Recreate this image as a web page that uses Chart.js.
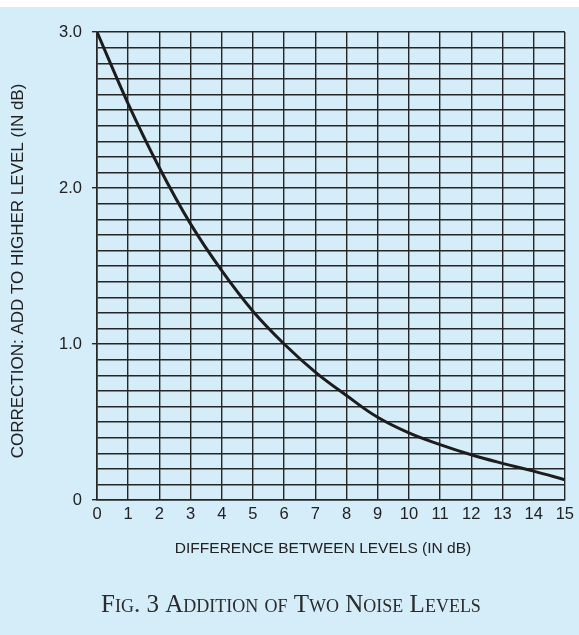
<!DOCTYPE html>
<html>
<head>
<meta charset="utf-8">
<script src="https://cdn.jsdelivr.net/npm/chart.js@4.4.1/dist/chart.umd.min.js"></script>
<style>
  html, body { margin: 0; padding: 0; background: #ffffff; }
  #box { position: relative; width: 579px; height: 635px; }
</style>
</head>
<body>
<div id="box"><canvas id="c" width="579" height="635"></canvas></div>
<script>
// ---- data ----
const differences = [0, 1, 2, 3, 4, 5, 6, 7, 8, 9, 10, 11, 12, 13, 14, 15];
const corrections = [3.0, 2.54, 2.13, 1.77, 1.47, 1.21, 1.0, 0.82, 0.67, 0.53, 0.43, 0.355, 0.29, 0.235, 0.185, 0.13];
const yTickLabels = { 0: '0', 1: '1.0', 2: '2.0', 3: '3.0' };
const xTitle = 'DIFFERENCE BETWEEN LEVELS (IN dB)';
const yTitle = 'CORRECTION: ADD TO HIGHER LEVEL (IN dB)';
const caption = 'Fig. 3 Addition of Two Noise Levels';

const BG = '#d5ecf9';
const INK = '#262626';
const SANS = '"Liberation Sans", Arial, sans-serif';

const bgPlugin = {
  id: 'bg',
  beforeDraw(chart) {
    const ctx = chart.ctx;
    ctx.save();
    ctx.fillStyle = '#ffffff';
    ctx.fillRect(0, 0, chart.width, chart.height);
    ctx.fillStyle = BG;
    ctx.fillRect(0, 7, chart.width, chart.height - 7);
    ctx.restore();
  }
};

const textPlugin = {
  id: 'texts',
  afterDraw(chart) {
    const ctx = chart.ctx;
    ctx.save();
    ctx.fillStyle = '#222';
    ctx.textAlign = 'center';
    ctx.textBaseline = 'middle';
    // x axis title
    ctx.font = '15.5px ' + SANS;
    ctx.fillText(xTitle, 323, 549);
    // y axis title
    ctx.save();
    ctx.translate(18, 271);
    ctx.rotate(-Math.PI / 2);
    ctx.font = '17px ' + SANS;
    ctx.fillText(yTitle, 0, 0);
    ctx.restore();
    // caption
    ctx.font = '25px "Liberation Serif", "DejaVu Serif", serif';
    try { ctx.fontVariantCaps = 'small-caps'; } catch (e) {}
    ctx.fillStyle = '#2b2b2b';
    ctx.textBaseline = 'alphabetic';
    ctx.fillText(caption, 291, 612);
    ctx.restore();
  }
};

const isWhole = v => Math.abs(v - Math.round(v)) < 1e-6;

new Chart(document.getElementById('c'), {
  type: 'line',
  data: {
    datasets: [{
      data: differences.map((d, i) => ({ x: d, y: corrections[i] })),
      borderColor: '#1c1c1c',
      borderWidth: 3,
      pointRadius: 0,
      fill: false,
      tension: 0.4
    }]
  },
  plugins: [bgPlugin, textPlugin],
  options: {
    responsive: false,
    animation: false,
    devicePixelRatio: 1,
    layout: { padding: { left: 0, top: 32, right: 11, bottom: 0 } },
    plugins: { legend: { display: false }, tooltip: { enabled: false } },
    scales: {
      x: {
        type: 'linear',
        min: 0, max: 15,
        afterFit(scale) { scale.height = 135; },
        ticks: {
          stepSize: 1,
          autoSkip: false,
          maxRotation: 0,
          padding: 5,
          color: '#222',
          font: { family: SANS, size: 16.5 }
        },
        grid: { color: INK, lineWidth: 1.4, drawTicks: false },
        border: { display: true, color: INK, width: 1.6 },
        title: { display: false, text: xTitle }
      },
      y: {
        min: 0, max: 3,
        afterFit(scale) { scale.width = 97; },
        ticks: {
          stepSize: 0.1,
          maxTicksLimit: 40,
          autoSkip: false,
          padding: 10,
          color: '#222',
          font: { family: SANS, size: 16.5 },
          callback(v) { return isWhole(v) ? yTickLabels[Math.round(v)] : ''; }
        },
        grid: {
          color: INK,
          lineWidth: 1.4,
          tickLength: 5,
          tickColor: ctx => (ctx.tick && isWhole(ctx.tick.value)) ? INK : 'rgba(0,0,0,0)'
        },
        border: { display: true, color: INK, width: 1.6 },
        title: { display: false, text: yTitle }
      }
    }
  }
});
</script>
</body>
</html>
